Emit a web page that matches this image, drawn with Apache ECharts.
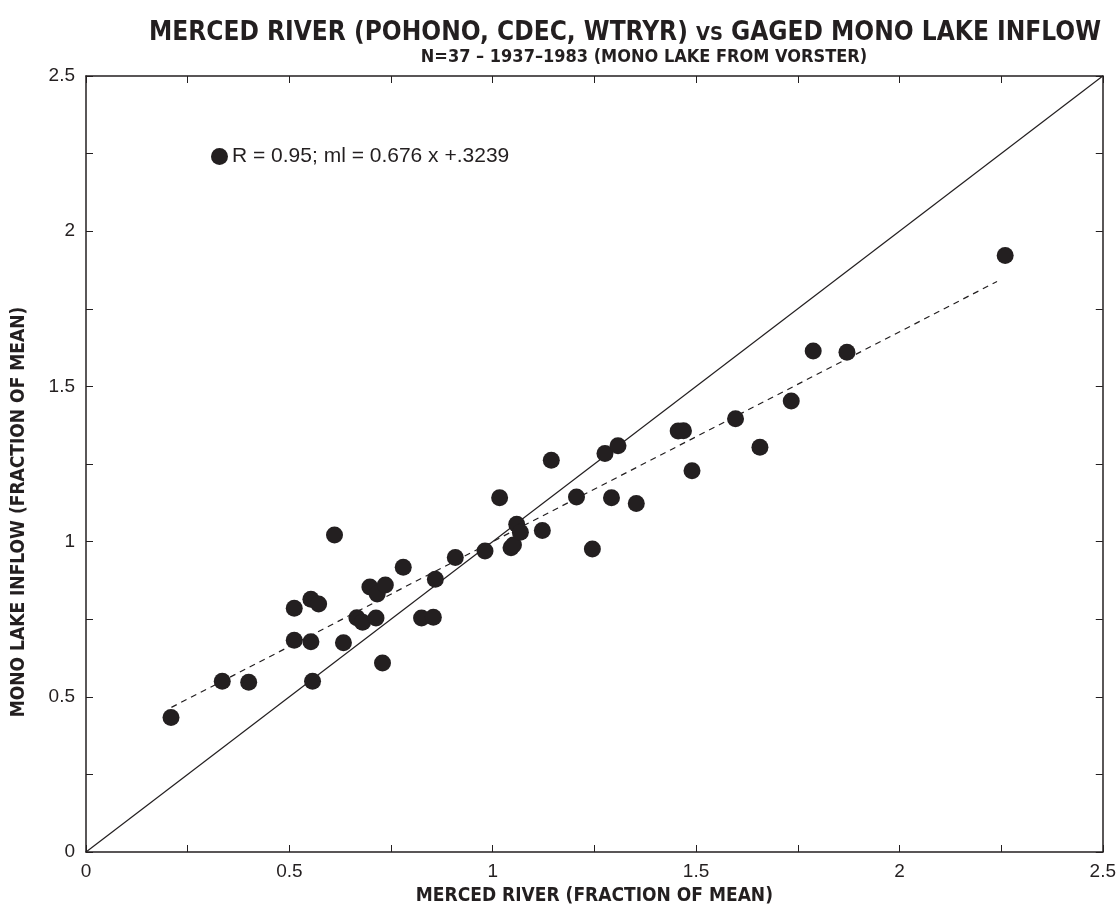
<!DOCTYPE html>
<html>
<head>
<meta charset="utf-8">
<script src="https://cdn.jsdelivr.net/npm/echarts@6/dist/echarts.min.js"></script>
<style>
  html, body { margin: 0; padding: 0; background: #fff; }
  #chart { width: 1119px; height: 915px; }
</style>
</head>
<body>
<div id="chart"></div>
<script>
// merced river (fraction of mean) vs mono lake inflow (fraction of mean)
const mercedRiver = [
  0.209, 0.335, 0.400, 0.557, 0.512, 0.553, 0.633, 0.729, 0.512, 0.553,
  0.572, 0.611, 0.666, 0.680, 0.713, 0.698, 0.716, 0.736, 0.780, 0.825,
  0.854, 0.859, 0.908, 0.981, 1.017, 1.045, 1.051, 1.059, 1.068, 1.122,
  1.144, 1.206, 1.245, 1.276, 1.292, 1.308, 1.353, 1.456, 1.469, 1.490,
  1.597, 1.657, 1.734, 1.788, 1.871, 2.260
]
const monoLake = [
  0.433, 0.550, 0.547, 0.550, 0.682, 0.677, 0.674, 0.609, 0.785, 0.814,
  0.799, 1.021, 0.755, 0.740, 0.754, 0.854, 0.831, 0.860, 0.917, 0.754,
  0.756, 0.879, 0.949, 0.970, 1.141, 0.980, 0.989, 1.056, 1.030, 1.036,
  1.262, 1.144, 0.976, 1.284, 1.141, 1.309, 1.123, 1.356, 1.357, 1.228,
  1.396, 1.304, 1.453, 1.614, 1.610, 1.922
]
// regression line endpoints (ml = 0.676 x + .3239)
const fitLine = [[0.21, 0.466], [2.24, 1.838]]
// 1:1 reference line
const oneToOne = [[0, 0], [2.5, 2.5]]
const tickValues = [0, 0.5, 1, 1.5, 2, 2.5]

const ink = '#231f20'
const condensed = '"Liberation Sans Narrow", "DejaVu Sans Condensed", "Liberation Sans", sans-serif'
const plain = '"Liberation Sans", Arial, sans-serif'

let points = mercedRiver.map((x, i) => [x, monoLake[i]])

function tickLabel(v) {
  return tickValues.indexOf(v) >= 0 ? String(v) : ''
}

function baseAxis(extra) {
  return Object.assign({
    type: 'value',
    min: 0,
    max: 2.5,
    interval: 0.25,
    axisLine: { show: true, onZero: false, lineStyle: { color: ink, width: 1.5 } },
    axisTick: { show: true, inside: true, length: 7, lineStyle: { color: ink, width: 1 } },
    splitLine: { show: false }
  }, extra)
}

let option = {
  backgroundColor: '#fff',
  animation: false,
  title: [
    {
      text: 'MERCED RIVER (POHONO, CDEC, WTRYR) {s|VS} GAGED MONO LAKE INFLOW',
      left: 620,
      top: 15,
      textAlign: 'center',
      textStyle: {
        fontFamily: condensed,
        fontWeight: 'bold',
        fontSize: 26,
        color: ink,
        rich: {
          s: { fontFamily: condensed, fontWeight: 'bold', fontSize: 20, color: ink, padding: [4, 0, 0, 0] }
        }
      }
    },
    {
      text: 'N=37 – 1937–1983 (MONO LAKE FROM VORSTER)',
      left: 639,
      top: 43,
      textAlign: 'center',
      textStyle: { fontFamily: condensed, fontWeight: 'bold', fontSize: 18, color: ink }
    }
  ],
  legend: {
    left: 206,
    top: 141,
    itemWidth: 17,
    itemHeight: 17,
    itemGap: 3,
    data: [{ name: 'R = 0.95; ml = 0.676 x +.3239', icon: 'circle' }],
    textStyle: { fontFamily: plain, fontSize: 21, color: ink, padding: [0, 0, 0, -1] }
  },
  grid: { left: 86, right: 15, top: 76, bottom: 63, containLabel: false },
  graphic: [
    {
      type: 'text',
      x: 19,
      y: 512,
      rotation: Math.PI / 2,
      style: {
        text: 'MONO LAKE INFLOW (FRACTION OF MEAN)',
        fontFamily: condensed,
        fontWeight: 'bold',
        fontSize: 19,
        fill: ink,
        align: 'center',
        verticalAlign: 'middle'
      }
    }
  ],
  xAxis: [
    baseAxis({
      position: 'bottom',
      name: 'MERCED RIVER (FRACTION OF MEAN)',
      nameLocation: 'middle',
      nameGap: 35,
      nameTextStyle: { fontFamily: condensed, fontWeight: 'bold', fontSize: 19, color: ink },
      axisLabel: { formatter: tickLabel, fontFamily: plain, fontSize: 19, color: ink, margin: 10, showMaxLabel: true, showMinLabel: true }
    }),
    baseAxis({ position: 'top', axisLabel: { show: false } })
  ],
  yAxis: [
    baseAxis({
      position: 'left',
      axisLabel: { formatter: tickLabel, fontFamily: plain, fontSize: 19, color: ink, margin: 11, showMaxLabel: true, showMinLabel: true }
    }),
    baseAxis({ position: 'right', axisLabel: { show: false } })
  ],
  series: [
    {
      name: 'one to one',
      type: 'line',
      data: oneToOne,
      symbol: 'none',
      silent: true,
      lineStyle: { color: ink, width: 1.2 },
      z: 1
    },
    {
      name: 'fit',
      type: 'line',
      data: fitLine,
      symbol: 'none',
      silent: true,
      lineStyle: { color: ink, width: 1.2, type: [6, 5] },
      z: 1
    },
    {
      name: 'R = 0.95; ml = 0.676 x +.3239',
      type: 'scatter',
      data: points,
      symbol: 'circle',
      symbolSize: 17,
      itemStyle: { color: ink, opacity: 1 },
      z: 3
    }
  ]
}

let myChart = echarts.init(document.getElementById('chart'), null, { renderer: 'canvas' })
myChart.setOption(option)
</script>
</body>
</html>
